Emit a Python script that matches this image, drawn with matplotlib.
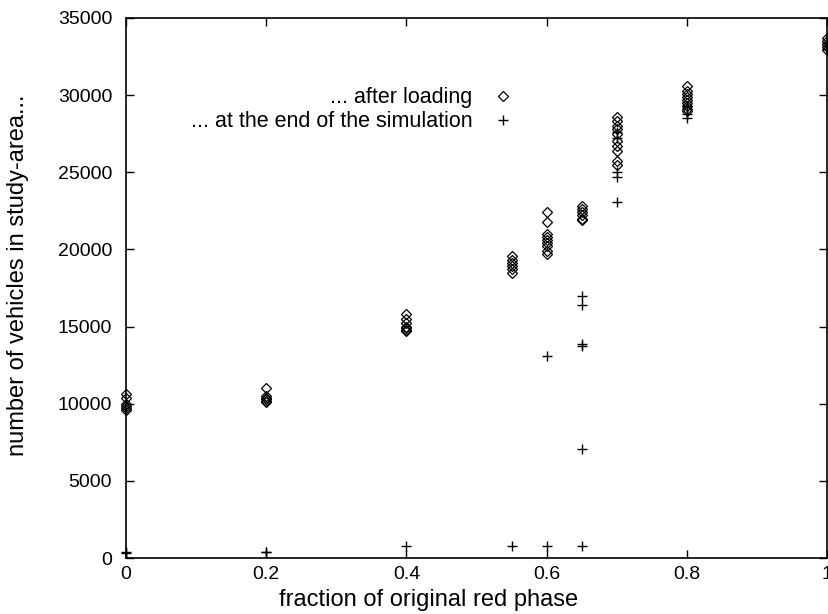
import matplotlib.pyplot as plt

plt.rcParams['font.family'] = ['Liberation Sans', 'DejaVu Sans']
plt.rcParams['font.size'] = 14

# red phase fractions and vehicle counts
x_load = [0.0] * 6 + [0.2] * 6 + [0.4] * 7 + [0.55] * 6 + [0.6] * 9 + [0.65] * 6 \
    + [0.7] * 10 + [0.8] * 9 + [1.0] * 5
after_loading = [
    10600, 10350, 10000, 9850, 9700, 9600,
    11050, 10500, 10400, 10300, 10200, 10100,
    15800, 15500, 15200, 15000, 14900, 14800, 14700,
    19600, 19300, 19100, 18900, 18700, 18500,
    22450, 21800, 21000, 20800, 20600, 20400, 20200, 19900, 19700,
    22800, 22600, 22400, 22200, 22000, 21900,
    28600, 28300, 28000, 27800, 27500, 27000, 26700, 26400, 25700, 25450,
    30600, 30300, 30100, 29900, 29700, 29500, 29300, 29100, 29000,
    33700, 33500, 33300, 33100, 32900,
]

x_end = [0.0] * 2 + [0.2] * 2 + [0.4] + [0.55] + [0.6] * 2 + [0.65] * 6 \
    + [0.7] * 5 + [0.8] * 3 + [1.0] * 3
end_of_sim = [
    400, 350,
    420, 380,
    800,
    800,
    13100, 800,
    17000, 16400, 13900, 13750, 7050, 800,
    27600, 27200, 25000, 24700, 23050,
    29300, 28800, 28500,
    33400, 33200, 33000,
]

fig = plt.figure(figsize=(8.29, 6.14), dpi=100)
ax = fig.add_axes([0.152, 0.0912, 0.8456, 0.8795])

ax.plot(x_load, after_loading, linestyle='none', marker='D', markersize=5,
        markerfacecolor='none', markeredgecolor='black', markeredgewidth=0.9,
        label='... after loading', clip_on=False)
ax.plot(x_end, end_of_sim, linestyle='none', marker='+', markersize=7,
        color='black', markeredgewidth=1.0,
        label='... at the end of the simulation', clip_on=False)

ax.set_xlim(0, 1)
ax.set_ylim(0, 35000)
ax.set_xticks([0, 0.2, 0.4, 0.6, 0.8, 1])
ax.set_xticklabels(['0', '0.2', '0.4', '0.6', '0.8', '1'])
ax.set_yticks(range(0, 35001, 5000))
ax.tick_params(direction='in', top=True, right=True, length=6, width=1,
               labelsize=14)
ax.tick_params(axis='y', pad=10)
ax.tick_params(axis='x', pad=6)
for s in ax.spines.values():
    s.set_linewidth(1.2)

ax.set_xlabel('fraction of original red phase', fontsize=17)
ax.set_ylabel('number of vehicles in study-area...', fontsize=17)
ax.xaxis.set_label_coords(0.432, -0.058)
ax.yaxis.set_label_coords(-0.138, 0.524)

ax.legend(loc='upper right', bbox_to_anchor=(0.568, 0.888), frameon=False,
          markerfirst=False, handlelength=1.2, handletextpad=0.8,
          labelspacing=0.15, borderaxespad=0, fontsize=15.5)

fig.savefig('out.png', dpi=100)
